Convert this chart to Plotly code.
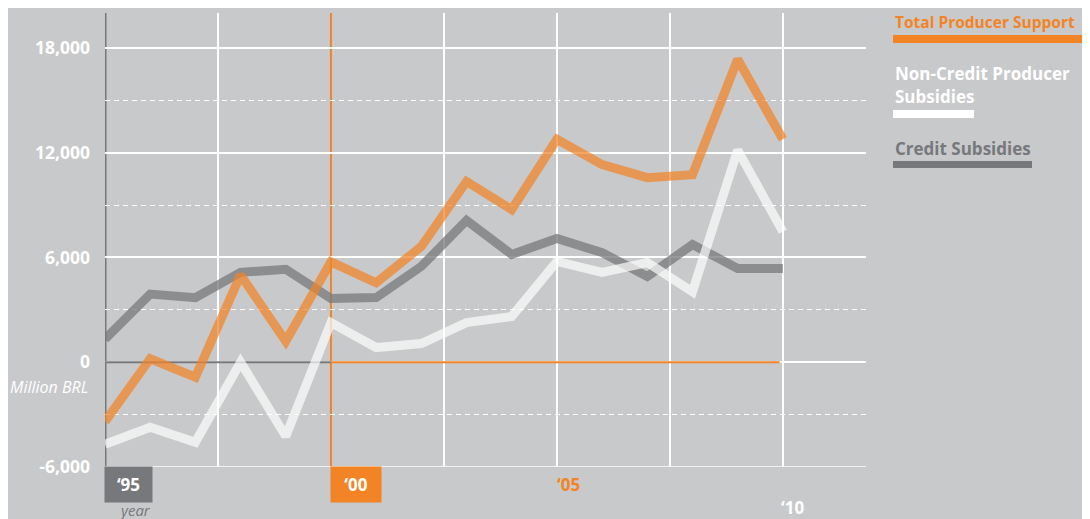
import plotly.graph_objects as go

years = list(range(1995, 2011))
total_support = [-3400, 200, -850, 5000, 1200, 5750, 4550, 6630, 10350, 8740, 12770, 11320, 10570, 10740, 17350, 12770]
non_credit = [-4700, -3720, -4580, 0, -4240, 2270, 840, 1070, 2270, 2620, 5770, 5140, 5710, 4040, 12150, 7480]
credit = [1320, 3900, 3700, 5150, 5320, 3650, 3700, 5490, 8120, 6170, 7090, 6280, 4910, 6740, 5370, 5370]

y_major = [-6000, 0, 6000, 12000, 18000]
y_major_text = ["-6,000", "0", "6,000", "12,000", "18,000"]
y_minor = [-3000, 3000, 9000, 15000]
x_grid = [1997.5, 2002.5, 2005, 2007.5, 2010]

BG = "#c8c9cb"
ORANGE = "#f28425"
GRAY = "#77787b"
FONT = "Open Sans"

fig = go.Figure()
fig.add_trace(go.Scatter(x=years, y=credit, mode="lines", name="Credit Subsidies",
                         line=dict(color="rgba(119,120,123,0.75)", width=9)))
fig.add_trace(go.Scatter(x=years, y=total_support, mode="lines", name="Total Producer Support",
                         line=dict(color="rgba(242,132,37,0.72)", width=9)))
fig.add_trace(go.Scatter(x=years, y=non_credit, mode="lines", name="Non-Credit Producer Subsidies",
                         line=dict(color="rgba(255,255,255,0.68)", width=9)))

# page body has an 8px margin; figure sized so the plot lands where the reference has it
fig.update_layout(
    width=1082, height=511,
    margin=dict(l=97, r=224, t=5, b=52),
    paper_bgcolor=BG, plot_bgcolor=BG,
    showlegend=False,
    font=dict(family=FONT, color="white"),
    xaxis=dict(range=[1995, 2011.84], tickvals=x_grid, showticklabels=False,
               showgrid=True, gridcolor="white", gridwidth=1.5, zeroline=False,
               showline=False, ticks=""),
    yaxis=dict(range=[-6000, 20000], tickvals=y_major, ticktext=y_major_text,
               showgrid=True, gridcolor="white", gridwidth=1.5, zeroline=False,
               showline=False, ticks="", ticklabelstandoff=14,
               tickfont=dict(family=FONT, size=17.5, color="white", weight="bold"),
               minor=dict(tickvals=y_minor, showgrid=True, gridcolor="white",
                          gridwidth=1.3, griddash="5px,4px")),
)

shapes = []
shapes.append(dict(type="line", xref="x", yref="y", x0=years[0], x1=2000, y0=0, y1=0,
                   line=dict(color=GRAY, width=2), layer="between"))
shapes.append(dict(type="line", xref="x", yref="y", x0=2000, x1=2009.93, y0=0, y1=0,
                   line=dict(color=ORANGE, width=2), layer="between"))
shapes.append(dict(type="line", xref="x", yref="paper", x0=1995, x1=1995, y0=0, y1=1,
                   line=dict(color=GRAY, width=3), layer="between"))
shapes.append(dict(type="line", xref="x", yref="paper", x0=2000, x1=2000, y0=0, y1=1,
                   line=dict(color=ORANGE, width=2), layer="between"))
shapes.append(dict(type="line", xref="paper", yref="y", x0=0, x1=1, y0=-6000, y1=-6000,
                   line=dict(color="white", width=1.5), layer="between"))
lx = (893 - 105) / 761
shapes.append(dict(type="rect", xref="paper", yref="paper", x0=lx, x1=1.35, y0=0.934, y1=0.9515,
                   fillcolor=ORANGE, line=dict(width=0)))
shapes.append(dict(type="rect", xref="paper", yref="paper", x0=lx, x1=(974 - 105) / 761, y0=0.7687, y1=0.7863,
                   fillcolor="white", line=dict(width=0)))
shapes.append(dict(type="rect", xref="paper", yref="paper", x0=lx, x1=(1032 - 105) / 761, y0=0.6586, y1=0.674,
                   fillcolor=GRAY, line=dict(width=0)))
fig.update_layout(shapes=shapes)

bold = dict(family=FONT, size=17, weight="bold")
ann = []
ann.append(dict(text="Total Producer Support", xref="paper", yref="paper", x=lx, y=0.980,
                xanchor="left", yanchor="middle", showarrow=False,
                font=dict(family=FONT, size=15.5, weight="bold", color=ORANGE)))
ann.append(dict(text="Non-Credit Producer", xref="paper", yref="paper", x=lx, y=0.8678,
                xanchor="left", yanchor="middle", showarrow=False,
                font=dict(**bold, color="white")))
ann.append(dict(text="Subsidies", xref="paper", yref="paper", x=lx, y=0.815,
                xanchor="left", yanchor="middle", showarrow=False,
                font=dict(**bold, color="white")))
ann.append(dict(text="Credit Subsidies", xref="paper", yref="paper", x=lx, y=0.7026,
                xanchor="left", yanchor="middle", showarrow=False,
                font=dict(**bold, color=GRAY)))
ann.append(dict(text="Million BRL", xref="paper", yref="y", x=0, y=0, xshift=-15, yshift=-25,
                xanchor="right", yanchor="middle", showarrow=False,
                font=dict(family=FONT, size=16, color="white", style="italic")))
ann.append(dict(text="\u201895", xref="x", yref="paper", x=1995, y=0, xshift=-1, yshift=1,
                xanchor="left", yanchor="top", showarrow=False, width=47, height=35,
                bgcolor=GRAY, borderpad=0, align="center", valign="middle",
                font=dict(**bold, color="white")))
ann.append(dict(text="year", xref="x", yref="paper", x=1995, y=0, xshift=12, yshift=-31,
                xanchor="left", yanchor="top", showarrow=False,
                font=dict(family=FONT, size=15, color=GRAY, style="italic")))
ann.append(dict(text="\u201800", xref="x", yref="paper", x=2000, y=0, xshift=-1, yshift=1,
                xanchor="left", yanchor="top", showarrow=False, width=50, height=35,
                bgcolor=ORANGE, borderpad=0, align="center", valign="middle",
                font=dict(**bold, color="white")))
ann.append(dict(text="\u201805", xref="x", yref="paper", x=2005, y=0, xshift=-2, yshift=-4,
                xanchor="left", yanchor="top", showarrow=False,
                font=dict(**bold, color=ORANGE)))
ann.append(dict(text="\u201810", xref="x", yref="paper", x=2010, y=0, xshift=-4, yshift=-27,
                xanchor="left", yanchor="top", showarrow=False,
                font=dict(**bold, color="white")))
fig.update_layout(annotations=ann)

fig.write_html("out.html")
